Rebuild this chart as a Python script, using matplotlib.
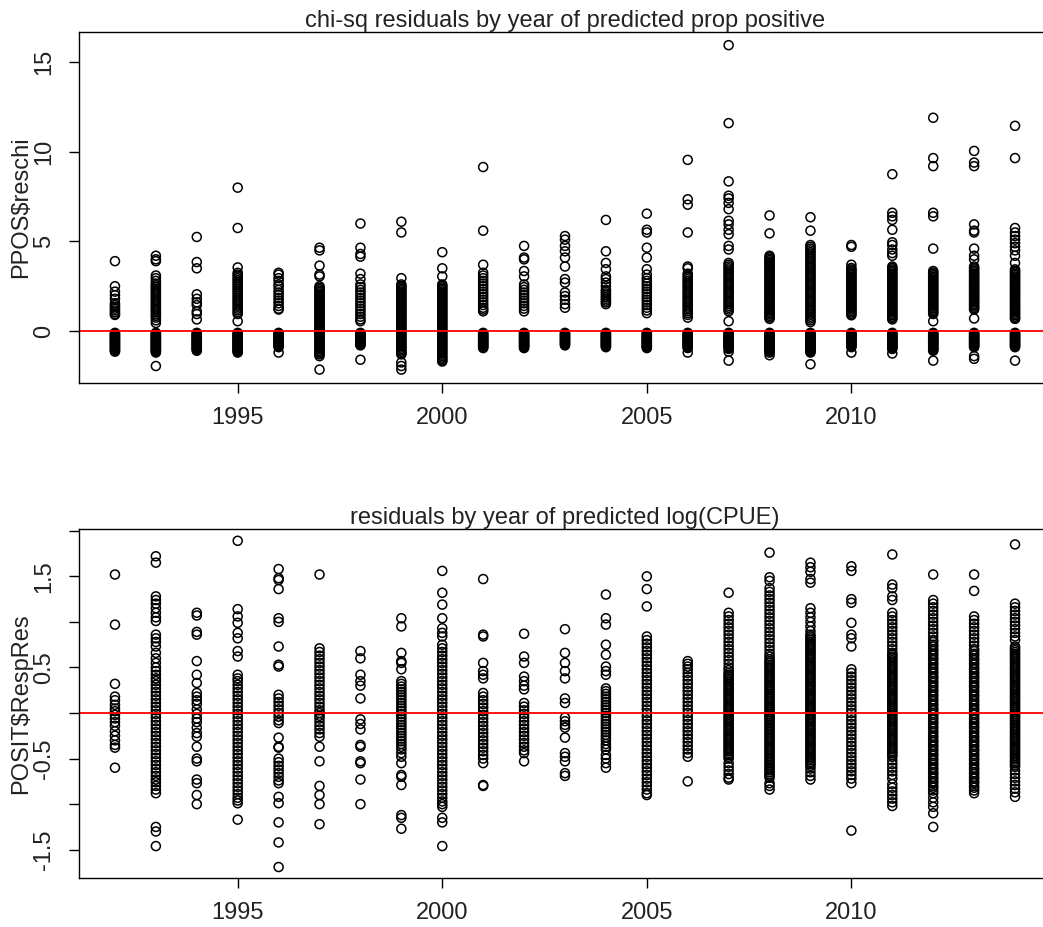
import numpy as np
import matplotlib
matplotlib.use("Agg")
import matplotlib.pyplot as plt

# years on the x axis
years = [1992, 1993, 1994, 1995, 1996, 1997, 1998, 1999, 2000, 2001, 2002, 2003,
         2004, 2005, 2006, 2007, 2008, 2009, 2010, 2011, 2012, 2013, 2014]

# chi-sq residuals of predicted prop positive, by year
chi_1992 = [3.9, 2.5, 2.2, 2.0, 1.8, 1.55, 1.45, 1.35, 1.25, 1.15, 1.05, 0.95, 0.9,
            -0.1, -0.15, -0.2, -0.25, -0.3, -0.35, -0.4, -0.45, -0.5, -0.55, -0.6, -0.65, -0.7,
            -0.75, -0.8, -0.85, -0.9, -0.95, -1.0, -1.05, -1.1, -1.15]
chi_1993 = [4.2, 4.0, 3.9, 3.1, 2.95, 2.8, 2.65, 2.55, 2.45, 2.35, 2.25, 2.15, 2.05, 1.95, 1.85,
            1.75, 1.65, 1.55, 1.45, 1.35, 1.25, 1.15, 1.05, 0.95, 0.85, 0.75, 0.6, 0.45,
            -0.1, -0.15, -0.2, -0.25, -0.3, -0.35, -0.4, -0.45, -0.5, -0.55, -0.6, -0.65, -0.7,
            -0.75, -0.8, -0.85, -0.9, -0.95, -1.0, -1.05, -1.1, -1.15, -1.2, -1.95]
chi_1994 = [5.25, 3.85, 3.5, 2.05, 1.8, 1.6, 1.45, 1.1, 0.95, 0.65,
            -0.1, -0.15, -0.2, -0.25, -0.3, -0.35, -0.4, -0.45, -0.5, -0.55, -0.6, -0.65, -0.7,
            -0.75, -0.8, -0.85, -0.9, -0.95, -1.0, -1.05, -1.1]
chi_1995 = [8.0, 5.75, 3.55, 3.25, 3.15, 3.05, 2.95, 2.85, 2.75, 2.65, 2.55, 2.45, 2.35, 2.25,
            2.15, 2.05, 1.95, 1.85, 1.75, 1.65, 1.55, 1.45, 1.35, 1.25, 1.15, 1.05, 0.95, 0.55,
            -0.1, -0.15, -0.2, -0.25, -0.3, -0.35, -0.4, -0.45, -0.5, -0.55, -0.6, -0.65, -0.7,
            -0.75, -0.8, -0.85, -0.9, -0.95, -1.0, -1.05, -1.1, -1.15, -1.2]
chi_1996 = [3.25, 3.15, 2.95, 2.8, 2.6, 2.5, 2.3, 2.15, 2.0, 1.85, 1.7, 1.55, 1.4, 1.25, 1.2,
            -0.1, -0.15, -0.2, -0.25, -0.3, -0.35, -0.4, -0.45, -0.5, -0.55, -0.6, -0.65, -0.7,
            -0.75, -0.8, -0.85, -0.9, -1.2]
chi_1997 = [4.65, 4.5, 3.65, 3.15, 3.05, 2.5, 2.42, 2.34, 2.26, 2.18, 2.1, 2.02, 1.94, 1.86, 1.78,
            1.7, 1.62, 1.54, 1.46, 1.38, 1.3, 1.22, 1.14, 1.06, 0.98, 0.9, 0.82, 0.74, 0.66, 0.58,
            0.5, 0.42, 0.34, 0.26, 0.18, 0.1, 0.02, -0.06, -0.14, -0.22, -0.3, -0.38, -0.46,
            -0.54, -0.62, -0.7, -0.78, -0.86, -0.94, -1.02, -1.1, -1.18, -1.26, -1.3, -1.4, -2.15]
chi_1998 = [6.0, 4.65, 4.3, 4.15, 3.2, 2.9, 2.6, 2.45, 2.3, 2.15, 2.0, 1.85, 1.7, 1.55, 1.4, 1.25,
            1.1, 0.95, 0.8, 0.65, 0.55,
            -0.1, -0.15, -0.2, -0.25, -0.3, -0.35, -0.4, -0.45, -0.5, -0.55, -0.6, -0.65, -0.7,
            -0.75, -0.8, -1.6]
chi_1999 = [6.1, 5.5, 2.95, 2.6, 2.52, 2.44, 2.36, 2.28, 2.2, 2.12, 2.04, 1.96, 1.88, 1.8, 1.72,
            1.64, 1.56, 1.48, 1.4, 1.32, 1.24, 1.16, 1.08, 1.0, 0.92, 0.84, 0.76, 0.68, 0.6, 0.52,
            0.44, 0.36, 0.28, 0.2, 0.12, 0.04, -0.04, -0.12, -0.2, -0.28, -0.36, -0.44, -0.52,
            -0.6, -0.68, -0.76, -0.84, -0.92, -1.0, -1.08, -1.16, -1.24, -1.3, -1.75, -1.95,
            -2.15]
chi_2000 = [4.4, 3.5, 3.05, 2.6, 2.52, 2.44, 2.36, 2.28, 2.2, 2.12, 2.04, 1.96, 1.88, 1.8, 1.72,
            1.64, 1.56, 1.48, 1.4, 1.32, 1.24, 1.16, 1.08, 1.0, 0.92, 0.84, 0.76, 0.68, 0.6, 0.52,
            0.44, 0.36, 0.28, 0.2, 0.12, 0.04, -0.04, -0.12, -0.2, -0.28, -0.36, -0.44, -0.52,
            -0.6, -0.68, -0.76, -0.84, -0.92, -1.0, -1.08, -1.16, -1.24, -1.32, -1.4, -1.48,
            -1.56, -1.64, -1.7]
chi_2001 = [9.15, 5.6, 3.7, 3.25, 3.1, 2.95, 2.8, 2.65, 2.5, 2.35, 2.2, 2.05, 1.9, 1.75, 1.6, 1.45,
            1.3, 1.2, 1.1,
            -0.1, -0.15, -0.2, -0.25, -0.3, -0.35, -0.4, -0.45, -0.5, -0.55, -0.6, -0.65, -0.7,
            -0.75, -0.8, -0.85, -0.9, -0.95]
chi_2002 = [4.75, 4.1, 4.0, 3.35, 3.05, 2.6, 2.45, 2.3, 2.15, 2.0, 1.85, 1.7, 1.55, 1.4, 1.25, 1.1,
            -0.1, -0.15, -0.2, -0.25, -0.3, -0.35, -0.4, -0.45, -0.5, -0.55, -0.6, -0.65, -0.7,
            -0.75, -0.8, -0.85, -0.9, -0.95]
chi_2003 = [5.3, 5.1, 4.75, 4.45, 4.1, 3.6, 2.9, 2.7, 2.15, 1.95, 1.75, 1.5, 1.3,
            -0.1, -0.15, -0.2, -0.25, -0.3, -0.35, -0.4, -0.45, -0.5, -0.55, -0.6, -0.65, -0.7,
            -0.75, -0.8]
chi_2004 = [6.2, 4.45, 3.8, 3.45, 3.05, 2.9, 2.7, 2.5, 2.3, 2.2, 2.1, 2.0, 1.9, 1.8, 1.7, 1.6, 1.5,
            -0.1, -0.15, -0.2, -0.25, -0.3, -0.35, -0.4, -0.45, -0.5, -0.55, -0.6, -0.65, -0.7,
            -0.75, -0.8, -0.85, -0.9]
chi_2005 = [6.55, 5.65, 5.5, 4.65, 4.1, 3.45, 3.15, 2.95, 2.8, 2.65, 2.5, 2.35, 2.2, 2.05, 1.9,
            1.75, 1.6, 1.45, 1.3, 1.15, 1.0,
            -0.1, -0.15, -0.2, -0.25, -0.3, -0.35, -0.4, -0.45, -0.5, -0.55, -0.6, -0.65, -0.7,
            -0.75, -0.8, -0.85, -0.9, -0.95]
chi_2006 = [9.55, 7.35, 7.05, 5.5, 3.6, 3.5, 3.2, 3.1, 3.0, 2.9, 2.8, 2.7, 2.6, 2.5, 2.4, 2.3, 2.2,
            2.1, 2.0, 1.9, 1.8, 1.7, 1.6, 1.5, 1.4, 1.3, 1.2, 1.1, 1.0, 0.9, 0.75,
            -0.1, -0.15, -0.2, -0.25, -0.3, -0.35, -0.4, -0.45, -0.5, -0.55, -0.6, -0.65, -0.7,
            -0.75, -0.8, -0.85, -0.9, -0.95, -1.2]
chi_2007 = [15.95, 11.6, 8.35, 7.55, 7.4, 7.15, 6.8, 6.15, 5.95, 5.65, 5.4, 4.75, 4.55, 3.8, 3.7,
            3.6, 3.5, 3.4, 3.3, 3.2, 3.1, 3.0, 2.9, 2.8, 2.7, 2.6, 2.5, 2.4, 2.3, 2.2, 2.1, 2.0,
            1.9, 1.8, 1.7, 1.6, 1.5, 1.4, 1.3, 1.2, 1.1, 0.55,
            -0.1, -0.15, -0.2, -0.25, -0.3, -0.35, -0.4, -0.45, -0.5, -0.55, -0.6, -0.65, -0.7,
            -0.75, -0.8, -0.85, -0.9, -0.95, -1.0, -1.15, -1.65]
chi_2008 = [6.45, 5.45, 4.2, 4.12, 4.04, 3.96, 3.88, 3.8, 3.72, 3.64, 3.56, 3.48, 3.4, 3.32, 3.24,
            3.16, 3.08, 3.0, 2.92, 2.84, 2.76, 2.68, 2.6, 2.52, 2.44, 2.36, 2.28, 2.2, 2.12, 2.04,
            1.96, 1.88, 1.8, 1.72, 1.64, 1.56, 1.48, 1.4, 1.32, 1.24, 1.16, 1.08, 1.0, 0.92, 0.84,
            0.76, 0.68,
            -0.1, -0.15, -0.2, -0.25, -0.3, -0.35, -0.4, -0.45, -0.5, -0.55, -0.6, -0.65, -0.7,
            -0.75, -0.8, -0.85, -0.9, -0.95, -1.0, -1.05, -1.1, -1.15, -1.2, -1.35]
chi_2009 = [6.35, 5.6, 4.8, 4.7, 4.6, 4.5, 4.4, 4.3, 4.2, 4.1, 4.0, 3.9, 3.8, 3.7, 3.6, 3.5, 3.4,
            3.3, 3.2, 3.1, 3.0, 2.9, 2.8, 2.7, 2.6, 2.5, 2.4, 2.3, 2.2, 2.1, 2.0, 1.9, 1.8, 1.7,
            1.6, 1.5, 1.4, 1.3, 1.2, 1.1, 1.0, 0.9, 0.8, 0.7, 0.6, 0.5,
            -0.1, -0.15, -0.2, -0.25, -0.3, -0.35, -0.4, -0.45, -0.5, -0.55, -0.6, -0.65, -0.7,
            -0.75, -0.8, -0.85, -0.9, -0.95, -1.0, -1.05, -1.1, -1.15, -1.2, -1.85]
chi_2010 = [4.8, 4.7, 3.7, 3.52, 3.44, 3.36, 3.28, 3.2, 3.12, 3.04, 2.96, 2.88, 2.8, 2.72, 2.64,
            2.56, 2.48, 2.4, 2.32, 2.24, 2.16, 2.08, 2.0, 1.92, 1.84, 1.76, 1.68, 1.6, 1.52, 1.44,
            1.36, 1.28, 1.2, 1.12, 1.04, 0.96, 0.88,
            -0.1, -0.15, -0.2, -0.25, -0.3, -0.35, -0.4, -0.45, -0.5, -0.55, -0.6, -0.65, -0.7,
            -0.75, -0.8, -0.85, -0.9, -1.2]
chi_2011 = [8.75, 6.6, 6.4, 6.2, 5.65, 4.95, 4.8, 4.55, 4.35, 4.2, 3.6, 3.52, 3.44, 3.36, 3.28,
            3.2, 3.12, 3.04, 2.96, 2.88, 2.8, 2.72, 2.64, 2.56, 2.48, 2.4, 2.32, 2.24, 2.16, 2.08,
            2.0, 1.92, 1.84, 1.76, 1.68, 1.6, 1.52, 1.44, 1.36, 1.28, 1.2, 1.12, 1.04, 0.96, 0.88,
            0.8, 0.72, 0.65,
            -0.1, -0.15, -0.2, -0.25, -0.3, -0.35, -0.4, -0.45, -0.5, -0.55, -0.6, -0.65, -0.7,
            -0.75, -0.8, -0.85, -0.9, -0.95, -1.0, -1.25]
chi_2012 = [11.9, 9.65, 9.2, 6.6, 6.4, 4.6, 3.35, 3.27, 3.19, 3.11, 3.03, 2.95, 2.87, 2.79, 2.71,
            2.63, 2.55, 2.47, 2.39, 2.31, 2.23, 2.15, 2.07, 1.99, 1.91, 1.83, 1.75, 1.67, 1.59,
            1.51, 1.43, 1.35, 1.27, 1.19, 1.11, 1.03, 0.95, 0.55,
            -0.1, -0.15, -0.2, -0.25, -0.3, -0.35, -0.4, -0.45, -0.5, -0.55, -0.6, -0.65, -0.7,
            -0.75, -0.8, -0.85, -0.9, -0.95, -1.0, -1.05, -1.1, -1.65]
chi_2013 = [10.05, 9.4, 9.2, 5.95, 5.6, 5.5, 4.6, 4.2, 4.0, 3.6, 3.52, 3.44, 3.36, 3.28, 3.2, 3.12,
            3.04, 2.96, 2.88, 2.8, 2.72, 2.64, 2.56, 2.48, 2.4, 2.32, 2.24, 2.16, 2.08, 2.0, 1.92,
            1.84, 1.76, 1.68, 1.6, 1.52, 1.44, 1.36, 1.28, 1.2, 0.7,
            -0.1, -0.15, -0.2, -0.25, -0.3, -0.35, -0.4, -0.45, -0.5, -0.55, -0.6, -0.65, -0.7,
            -0.75, -0.8, -0.85, -0.9, -1.4, -1.55]
chi_2014 = [11.45, 9.65, 5.75, 5.5, 5.3, 5.1, 4.9, 4.7, 4.5, 4.2, 3.8, 3.44, 3.36, 3.28, 3.2, 3.12,
            3.04, 2.96, 2.88, 2.8, 2.72, 2.64, 2.56, 2.48, 2.4, 2.32, 2.24, 2.16, 2.08, 2.0, 1.92,
            1.84, 1.76, 1.68, 1.6, 1.52, 1.44, 1.36, 1.28, 1.2, 1.12, 1.04, 0.96, 0.88, 0.8, 0.72,
            0.68,
            -0.1, -0.15, -0.2, -0.25, -0.3, -0.35, -0.4, -0.45, -0.5, -0.55, -0.6, -0.65, -0.7,
            -0.75, -0.8, -0.85, -0.9, -1.65]

# residuals of predicted log(CPUE), by year
resp_1992 = [1.52, 0.97, 0.32, 0.18, 0.14, 0.09, 0.05, 0.02, -0.02, -0.06, -0.1, -0.14, -0.2,
             -0.25, -0.3, -0.35, -0.38, -0.6]
resp_1993 = [1.72, 1.65, 1.28, 1.24, 1.2, 1.15, 1.1, 1.05, 1.01, 0.86, 0.82, 0.78, 0.73, 0.66, 0.6,
             0.55, 0.5, 0.46, 0.42, 0.38, 0.35, 0.31, 0.27, 0.23, 0.19, 0.15, 0.11, 0.07, 0.03,
             -0.01, -0.05, -0.09, -0.13, -0.17, -0.21, -0.25, -0.29, -0.33, -0.37, -0.41, -0.45,
             -0.49, -0.53, -0.57, -0.61, -0.65, -0.69, -0.73, -0.76, -0.8, -0.84, -0.88, -1.25,
             -1.3, -1.46]
resp_1994 = [1.1, 1.07, 0.89, 0.86, 0.57, 0.42, 0.33, 0.22, 0.18, 0.14, 0.1, 0.04, -0.01, -0.06,
             -0.1, -0.16, -0.22, -0.26, -0.37, -0.5, -0.53, -0.73, -0.77, -0.9, -1.0]
resp_1995 = [1.89, 1.14, 1.06, 0.99, 0.88, 0.82, 0.68, 0.62, 0.42, 0.38, 0.35, 0.31, 0.27, 0.23,
             0.19, 0.15, 0.11, 0.07, 0.03, -0.01, -0.05, -0.09, -0.13, -0.17, -0.21, -0.25, -0.29,
             -0.33, -0.37, -0.41, -0.45, -0.49, -0.53, -0.57, -0.61, -0.65, -0.69, -0.73, -0.77,
             -0.81, -0.85, -0.89, -0.93, -0.96, -0.99, -1.17]
resp_1996 = [1.58, 1.48, 1.46, 1.36, 1.04, 1.0, 0.73, 0.53, 0.51, 0.2, 0.16, 0.12, 0.08, 0.04, 0.0,
             -0.04, -0.08, -0.11, -0.27, -0.37, -0.38, -0.5, -0.54, -0.58, -0.62, -0.66, -0.7,
             -0.74, -0.77, -0.92, -0.99, -1.2, -1.42, -1.69]
resp_1997 = [1.52, 0.71, 0.67, 0.63, 0.59, 0.55, 0.51, 0.47, 0.43, 0.39, 0.35, 0.31, 0.27, 0.23,
             0.19, 0.15, 0.11, 0.07, 0.03, 0.0, -0.03, -0.06, -0.1, -0.14, -0.18, -0.22, -0.26,
             -0.37, -0.53, -0.8, -0.9, -1.0, -1.22]
resp_1998 = [0.68, 0.6, 0.42, 0.35, 0.3, 0.16, -0.07, -0.12, -0.18, -0.35, -0.37, -0.53, -0.55,
             -0.73, -1.0]
resp_1999 = [1.04, 0.95, 0.66, 0.57, 0.55, 0.48, 0.35, 0.32, 0.29, 0.26, 0.23, 0.2, 0.17, 0.14,
             0.11, 0.08, 0.05, 0.02, -0.01, -0.04, -0.07, -0.1, -0.13, -0.16, -0.19, -0.22, -0.25,
             -0.28, -0.31, -0.34, -0.37, -0.4, -0.44, -0.48, -0.55, -0.68, -0.7, -0.79, -1.12,
             -1.15, -1.27]
resp_2000 = [1.56, 1.32, 1.19, 1.04, 0.93, 0.88, 0.84, 0.75, 0.71, 0.67, 0.63, 0.59, 0.55, 0.51,
             0.47, 0.43, 0.39, 0.35, 0.31, 0.27, 0.23, 0.19, 0.15, 0.11, 0.07, 0.03, -0.01, -0.05,
             -0.09, -0.13, -0.17, -0.21, -0.25, -0.29, -0.33, -0.37, -0.41, -0.45, -0.49, -0.53,
             -0.57, -0.61, -0.65, -0.69, -0.73, -0.77, -0.81, -0.85, -0.89, -0.93, -0.97, -1.0,
             -1.03, -1.15, -1.2, -1.46]
resp_2001 = [1.47, 0.86, 0.84, 0.55, 0.46, 0.42, 0.38, 0.22, 0.18, 0.14, 0.1, 0.06, 0.02, -0.02,
             -0.06, -0.1, -0.14, -0.18, -0.22, -0.26, -0.3, -0.34, -0.38, -0.42, -0.46, -0.5, -0.55,
             -0.79, -0.8]
resp_2002 = [0.87, 0.62, 0.55, 0.4, 0.35, 0.3, 0.26, 0.11, 0.07, 0.03, -0.01, -0.05, -0.09, -0.13,
             -0.17, -0.21, -0.25, -0.29, -0.33, -0.37, -0.41, -0.44, -0.53]
resp_2003 = [0.92, 0.66, 0.55, 0.46, 0.38, 0.16, 0.11, -0.05, -0.09, -0.13, -0.16, -0.27, -0.44,
             -0.48, -0.53, -0.66, -0.69]
resp_2004 = [1.3, 1.04, 0.97, 0.75, 0.64, 0.51, 0.46, 0.42, 0.27, 0.24, 0.21, 0.18, 0.15, 0.12,
             0.09, 0.06, 0.03, 0.0, -0.03, -0.06, -0.09, -0.12, -0.15, -0.18, -0.21, -0.24, -0.27,
             -0.3, -0.34, -0.37, -0.4, -0.46, -0.5, -0.55, -0.6]
resp_2005 = [1.5, 1.36, 1.17, 0.84, 0.8, 0.76, 0.72, 0.68, 0.64, 0.6, 0.56, 0.52, 0.48, 0.44, 0.4,
             0.36, 0.32, 0.28, 0.24, 0.2, 0.16, 0.12, 0.08, 0.04, 0.0, -0.04, -0.08, -0.12, -0.16,
             -0.2, -0.24, -0.28, -0.32, -0.36, -0.4, -0.44, -0.48, -0.52, -0.56, -0.6, -0.64,
             -0.68, -0.72, -0.76, -0.8, -0.84, -0.88, -0.9]
resp_2006 = [0.57, 0.54, 0.51, 0.48, 0.44, 0.4, 0.36, 0.32, 0.28, 0.24, 0.2, 0.16, 0.12, 0.08, 0.04,
             0.0, -0.04, -0.08, -0.12, -0.16, -0.2, -0.24, -0.28, -0.32, -0.36, -0.4, -0.44, -0.48,
             -0.75]
resp_2007 = [1.32, 1.1, 1.06, 1.02, 0.98, 0.94, 0.9, 0.86, 0.82, 0.78, 0.74, 0.7, 0.66, 0.62, 0.58,
             0.54, 0.5, 0.47, 0.44, 0.42, 0.4, 0.38, 0.36, 0.34, 0.32, 0.3, 0.28, 0.26, 0.24, 0.22,
             0.2, 0.18, 0.16, 0.14, 0.12, 0.1, 0.08, 0.06, 0.04, 0.02, 0.0, -0.02, -0.04, -0.06,
             -0.08, -0.1, -0.12, -0.14, -0.16, -0.18, -0.2, -0.22, -0.24, -0.26, -0.28, -0.3,
             -0.32, -0.34, -0.36, -0.38, -0.4, -0.42, -0.44, -0.46, -0.48, -0.5, -0.55, -0.59,
             -0.63, -0.67, -0.71, -0.73]
resp_2008 = [1.76, 1.49, 1.45, 1.37, 1.33, 1.29, 1.25, 1.21, 1.17, 1.13, 1.09, 1.05, 1.01, 0.97,
             0.93, 0.89, 0.85, 0.81, 0.77, 0.73, 0.69, 0.65, 0.62, 0.59, 0.57, 0.55, 0.53, 0.51,
             0.49, 0.47, 0.45, 0.43, 0.41, 0.39, 0.37, 0.35, 0.33, 0.31, 0.29, 0.27, 0.25, 0.23,
             0.21, 0.19, 0.17, 0.15, 0.13, 0.11, 0.09, 0.07, 0.05, 0.03, 0.01, -0.01, -0.03, -0.05,
             -0.07, -0.09, -0.11, -0.13, -0.15, -0.17, -0.19, -0.21, -0.23, -0.25, -0.27, -0.29,
             -0.31, -0.33, -0.35, -0.37, -0.39, -0.41, -0.43, -0.45, -0.47, -0.49, -0.51, -0.53,
             -0.55, -0.57, -0.59, -0.61, -0.63, -0.65, -0.67, -0.69, -0.71, -0.77, -0.8, -0.84]
resp_2009 = [1.65, 1.6, 1.55, 1.47, 1.43, 1.15, 1.1, 1.05, 1.0, 0.95, 0.9, 0.86, 0.84, 0.82, 0.8,
             0.78, 0.76, 0.74, 0.72, 0.7, 0.68, 0.66, 0.64, 0.62, 0.6, 0.58, 0.56, 0.54, 0.52, 0.5,
             0.48, 0.46, 0.44, 0.42, 0.4, 0.38, 0.36, 0.34, 0.32, 0.3, 0.28, 0.26, 0.24, 0.22, 0.2,
             0.18, 0.16, 0.14, 0.12, 0.1, 0.08, 0.06, 0.04, 0.02, 0.0, -0.02, -0.04, -0.06, -0.08,
             -0.1, -0.12, -0.14, -0.16, -0.18, -0.2, -0.22, -0.24, -0.26, -0.28, -0.3, -0.32,
             -0.34, -0.36, -0.38, -0.4, -0.42, -0.44, -0.46, -0.48, -0.5, -0.52, -0.54, -0.56,
             -0.58, -0.61, -0.65, -0.69, -0.73]
resp_2010 = [1.61, 1.56, 1.25, 1.21, 0.99, 0.86, 0.82, 0.73, 0.48, 0.44, 0.4, 0.36, 0.32, 0.28,
             0.24, 0.2, 0.16, 0.12, 0.08, 0.04, 0.0, -0.04, -0.08, -0.12, -0.16, -0.2, -0.24, -0.28,
             -0.32, -0.36, -0.4, -0.44, -0.48, -0.52, -0.56, -0.6, -0.64, -0.68, -0.72, -0.77,
             -1.29]
resp_2011 = [1.74, 1.41, 1.37, 1.28, 1.24, 1.1, 1.06, 1.02, 0.98, 0.94, 0.9, 0.86, 0.82, 0.78,
             0.74, 0.7, 0.66, 0.64, 0.62, 0.6, 0.58, 0.56, 0.54, 0.52, 0.5, 0.48, 0.46, 0.44, 0.42,
             0.4, 0.38, 0.36, 0.34, 0.32, 0.3, 0.28, 0.26, 0.24, 0.22, 0.2, 0.18, 0.16, 0.14, 0.12,
             0.1, 0.08, 0.06, 0.04, 0.02, 0.0, -0.02, -0.04, -0.06, -0.08, -0.1, -0.12, -0.14,
             -0.16, -0.18, -0.2, -0.22, -0.24, -0.26, -0.28, -0.3, -0.32, -0.34, -0.36, -0.38,
             -0.4, -0.42, -0.44, -0.46, -0.48, -0.52, -0.56, -0.6, -0.64, -0.68, -0.72, -0.78,
             -0.82, -0.86, -0.9, -0.94, -0.98, -1.02]
resp_2012 = [1.52, 1.24, 1.2, 1.16, 1.12, 1.08, 1.04, 1.0, 0.96, 0.92, 0.88, 0.84, 0.8, 0.78, 0.75,
             0.73, 0.7, 0.68, 0.65, 0.63, 0.6, 0.58, 0.55, 0.53, 0.5, 0.48, 0.45, 0.43, 0.4, 0.38,
             0.35, 0.33, 0.3, 0.28, 0.25, 0.23, 0.2, 0.18, 0.15, 0.13, 0.1, 0.08, 0.05, 0.03, 0.0,
             -0.02, -0.05, -0.07, -0.1, -0.12, -0.15, -0.17, -0.2, -0.22, -0.25, -0.27, -0.3,
             -0.32, -0.35, -0.37, -0.4, -0.42, -0.45, -0.47, -0.5, -0.52, -0.55, -0.57, -0.6,
             -0.62, -0.65, -0.67, -0.7, -0.72, -0.75, -0.77, -0.8, -0.82, -0.85, -0.88, -0.93,
             -0.98, -1.03, -1.1, -1.25]
resp_2013 = [1.52, 1.34, 1.06, 1.02, 0.98, 0.94, 0.9, 0.86, 0.82, 0.78, 0.74, 0.7, 0.68, 0.65,
             0.63, 0.6, 0.58, 0.55, 0.53, 0.5, 0.48, 0.45, 0.43, 0.4, 0.38, 0.35, 0.33, 0.3, 0.28,
             0.25, 0.23, 0.2, 0.18, 0.15, 0.13, 0.1, 0.08, 0.05, 0.03, 0.0, -0.02, -0.05, -0.07,
             -0.1, -0.12, -0.15, -0.17, -0.2, -0.22, -0.25, -0.27, -0.3, -0.32, -0.35, -0.37, -0.4,
             -0.42, -0.45, -0.47, -0.5, -0.52, -0.55, -0.57, -0.6, -0.62, -0.65, -0.67, -0.7,
             -0.72, -0.75, -0.77, -0.8, -0.82, -0.85, -0.88]
resp_2014 = [1.85, 1.2, 1.16, 1.12, 1.08, 1.04, 1.0, 0.96, 0.92, 0.88, 0.84, 0.8, 0.73, 0.71, 0.69,
             0.67, 0.65, 0.63, 0.61, 0.59, 0.57, 0.55, 0.53, 0.51, 0.49, 0.47, 0.45, 0.43, 0.41,
             0.39, 0.37, 0.35, 0.33, 0.31, 0.29, 0.27, 0.25, 0.23, 0.21, 0.19, 0.17, 0.15, 0.13,
             0.11, 0.09, 0.07, 0.05, 0.03, 0.01, -0.01, -0.03, -0.05, -0.07, -0.09, -0.11, -0.13,
             -0.15, -0.17, -0.19, -0.21, -0.23, -0.25, -0.27, -0.29, -0.31, -0.33, -0.35, -0.37,
             -0.39, -0.41, -0.43, -0.45, -0.47, -0.49, -0.51, -0.53, -0.55, -0.57, -0.59, -0.63,
             -0.67, -0.71, -0.75, -0.79, -0.83, -0.87, -0.92]

chi_by_year = [chi_1992, chi_1993, chi_1994, chi_1995, chi_1996, chi_1997, chi_1998, chi_1999,
               chi_2000, chi_2001, chi_2002, chi_2003, chi_2004, chi_2005, chi_2006, chi_2007,
               chi_2008, chi_2009, chi_2010, chi_2011, chi_2012, chi_2013, chi_2014]
resp_by_year = [resp_1992, resp_1993, resp_1994, resp_1995, resp_1996, resp_1997, resp_1998,
                resp_1999, resp_2000, resp_2001, resp_2002, resp_2003, resp_2004, resp_2005,
                resp_2006, resp_2007, resp_2008, resp_2009, resp_2010, resp_2011, resp_2012,
                resp_2013, resp_2014]

plt.rcParams['font.family'] = ['Liberation Sans', 'DejaVu Sans']
plt.rcParams['font.size'] = 17

fig = plt.figure(figsize=(10.43, 9.27), dpi=100)
# right edge of both boxes falls just outside the picture, as in the original
ax1 = fig.add_axes([0.0757, 0.5868, 0.932, 0.3786])
ax2 = fig.add_axes([0.0757, 0.0529, 0.932, 0.3765])


def residual_panel(ax, by_year, title, ylabel, ylim, yticks, ylabels):
    for yr, vals in zip(years, by_year):
        # scatter keeps sub-pixel positions, so tight stacks fill in like R's pch=1
        ax.scatter(np.full(len(vals), yr), vals, s=42, facecolors='none',
                   edgecolors='black', linewidths=1.1)
    ax.axhline(0, color='red', lw=1.3)
    ax.set_xlim(1991.12, 2014.88)
    ax.set_ylim(*ylim)
    ax.set_xticks([1995, 2000, 2005, 2010])
    ax.set_yticks(yticks)
    ax.set_yticklabels(ylabels, rotation=90, va='center')
    ax.tick_params(length=7, width=1, pad=10, color='black', labelcolor='#222222')
    ax.set_title(title, fontsize=17, pad=3, color='#222222')
    ax.set_ylabel(ylabel, va='center', color='#222222')
    ax.yaxis.set_label_coords(-0.06, 0.5)
    for sp in ax.spines.values():
        sp.set_linewidth(1.0)


residual_panel(ax1, chi_by_year, 'chi-sq residuals by year of predicted prop positive',
               'PPOS$reschi', (-2.9, 16.68), [0, 5, 10, 15], ['0', '5', '10', '15'])
residual_panel(ax2, resp_by_year, 'residuals by year of predicted log(CPUE)',
               'POSIT$RespRes', (-1.81, 2.02),
               [-1.5, -1.0, -0.5, 0.0, 0.5, 1.0, 1.5, 2.0],
               ['-1.5', '', '-0.5', '', '0.5', '', '1.5', ''])

fig.savefig('out.png', dpi=100)
